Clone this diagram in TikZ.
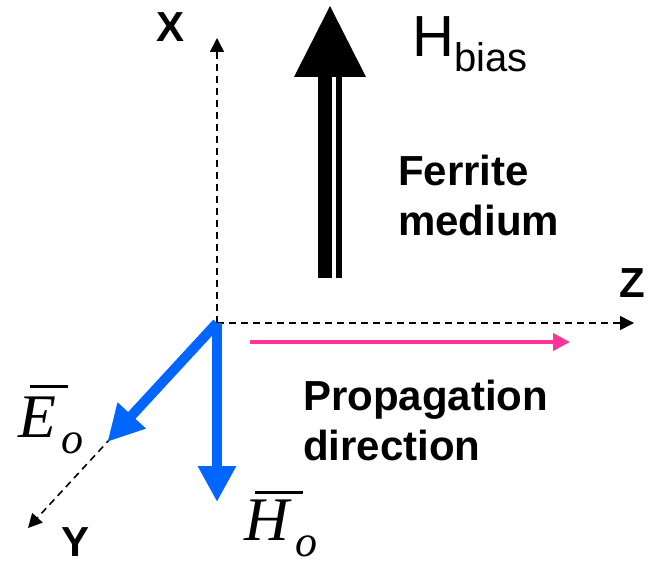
\documentclass[tikz,border=0pt]{standalone}
\usepackage{fontspec}
\setmainfont{Liberation Sans}
\newfontfamily\fieldfont{Liberation Serif}
\usetikzlibrary{arrows.meta, positioning, calc}
\definecolor{fieldblue}{RGB}{0,102,255}
\definecolor{proppink}{RGB}{255,51,153}
% letter, bar offset, bar width, bar height, subscript kern
\newcommand{\fieldvec}[5]{\makebox[0pt][l]{\kern#2\rule[#4]{#3}{2.6pt}}%
  {\fieldfont\itshape #1}\kern#5\raisebox{-16pt}{\fieldfont\itshape\fontsize{44}{44}\selectfont o}}

\begin{document}
\begin{tikzpicture}[x=1pt, y=-1pt,
  axis/.style={line width=1.6pt, dash pattern=on 7pt off 5pt,
               -{Triangle[length=14pt, width=14pt]}},
  lbl/.style={font=\fontsize{42}{50}\selectfont\bfseries, inner sep=0pt, align=left},
  field/.style={line width=10pt, draw=fieldblue,
                -{Triangle[length=36pt, width=36pt]}},
  veclbl/.style={font=\fontsize{62}{62}\selectfont, inner sep=0pt}
]
\useasboundingbox (0,0) rectangle (650,567);

%% Axes
\coordinate (O)    at (217,323);
\coordinate (xend) at (217,38);
\coordinate (zend) at (634,323);
\coordinate (yend) at (28,528);
\draw[axis] (O) -- (xend);
\draw[axis] (O) -- (zend);
\draw[axis] (O) -- (yend);
\node[lbl, anchor=base west] (xlbl) at (156,42)  {X};
\node[lbl, anchor=base west] (zlbl) at (619,297) {Z};
\node[lbl, anchor=base west] (ylbl) at (61,556)  {Y};

%% Bias field
\fill (294,77) -- (330,6) -- (366,77) -- cycle;
\fill (318,77) rectangle (332,278);
\fill (336,77) rectangle (342,278);
\node[anchor=base west, inner sep=0pt] (hbias) at (412,57)
  {\fontsize{58}{58}\selectfont H\fontsize{40}{40}\selectfont\raisebox{-15pt}{bias}};
\node[lbl, anchor=north west] (ferrite) at (398,155) {Ferrite\\medium};

%% Fields
\coordinate (etip) at ($(O)!0.58!(yend)$);
\coordinate (htip) at (217,502);
\draw[field] (O) -- (etip);
\draw[field] (O) -- (htip);
\node[veclbl, anchor=base west] (elbl) at (18,437) {\fieldvec{E}{12pt}{38pt}{49pt}{5pt}};
\node[veclbl, anchor=base west] (hlbl) at (244,540) {\fieldvec{H}{11pt}{48pt}{46pt}{7pt}};

%% Propagation
\coordinate (pstart) at (250,342);
\coordinate (pend)   at (570,342);
\draw[line width=4pt, proppink, -{Triangle[length=17pt, width=17pt]}] (pstart) -- (pend);
\node[lbl, anchor=north west] (prop) at (303,380) {Propagation\\direction};
\end{tikzpicture}
\end{document}
